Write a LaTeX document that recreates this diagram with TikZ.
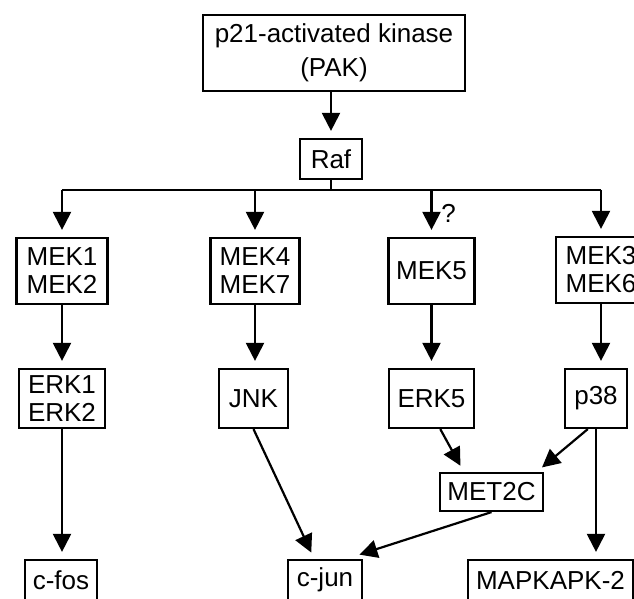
\documentclass[tikz,border=0pt]{standalone}
\usepackage{fontspec}
\setmainfont{Liberation Sans}
\usetikzlibrary{arrows.meta}
\begin{document}
\begin{tikzpicture}[x=0.5pt,y=-0.5pt,
	box/.style={draw,line width=1.1pt,inner sep=0pt,align=center,font=\fontsize{13}{14}\selectfont},
	arr/.style={line width=1.1pt,-{Triangle[width=9pt,length=9pt]},shorten >=3.5pt}]
	\fill[white] (0,0) rectangle (634,599);
	\useasboundingbox (0,0) rectangle (634,599);
	\clip (0,0) rectangle (634,599);

	\node[box,minimum width=131pt,minimum height=38pt] (pak) at (334,53) {p21-activated kinase\\[3pt](PAK)};
	\node[box,minimum width=31pt,minimum height=20pt] (raf) at (331,159) {Raf};
	\coordinate (bus) at (331,190);

	\node[box,minimum width=45.5pt,minimum height=33pt] (mek12) at (62,271) {MEK1\\MEK2};
	\node[box,minimum width=44.5pt,minimum height=33pt] (mek47) at (255,271) {MEK4\\MEK7};
	\node[box,minimum width=43pt,minimum height=33pt] (mek5) at (431.5,271) {MEK5};
	\node[box,minimum width=45pt,minimum height=33pt] (mek36) at (601,270) {MEK3\\MEK6};

	\node[box,minimum width=43pt,minimum height=29.5pt] (erk12) at (62,398.5) {ERK1\\ERK2};
	\node[box,minimum width=34.5pt,minimum height=29.5pt] (jnk) at (253.5,398.5) {JNK};
	\node[box,minimum width=42.5pt,minimum height=29.5pt] (erk5) at (431.5,398.5) {ERK5};
	\node[box,minimum width=31pt,minimum height=29.5pt] (p38) at (596,398.5) {p38};
	\node[box,minimum width=51.5pt,minimum height=19pt] (met2c) at (491.5,492) {MET2C};

	\node[box,minimum width=36pt,minimum height=20pt] (cfos) at (61,580) {c-fos};
	\node[box,minimum width=37pt,minimum height=20pt] (cjun) at (325,580) {c-jun};
	\node[box,minimum width=82.5pt,minimum height=20pt] (mapk) at (550.5,580) {MAPKAPK-2};

	\draw[arr] (raf |- pak.south) -- (raf);
	\draw[line width=1.1pt] (raf.south) -- (bus);
	\draw[line width=1.1pt] (mek12 |- bus) -- (mek36 |- bus);
	\draw[arr] (mek12 |- bus) -- (mek12.north);
	\draw[arr] (mek47 |- bus) -- (mek47.north);
	\draw[arr] (mek5 |- bus) -- (mek5.north) node[midway,right=1pt,font=\fontsize{13}{14}\selectfont] {?};
	\draw[arr] (mek36 |- bus) -- (mek36.north);

	\draw[arr] (mek12) -- (erk12);
	\draw[arr] (mek47.south) -- (mek47.south |- jnk.north);
	\draw[arr] (mek5) -- (erk5);
	\draw[arr] (mek36.south) -- (mek36.south |- p38.north);

	\draw[arr] (erk12) -- (erk12 |- cfos.north);
	\draw[arr] (erk5.-74) -- (met2c.144);
	\draw[arr] (p38.-105) -- (met2c.24);
	\draw[arr] (jnk.south) -- (cjun.117);
	\draw[arr,shorten >=7pt] (met2c.south) -- (cjun.45);
	\draw[arr] (p38.south) -- (p38.south |- mapk.north);
\end{tikzpicture}
\end{document}
